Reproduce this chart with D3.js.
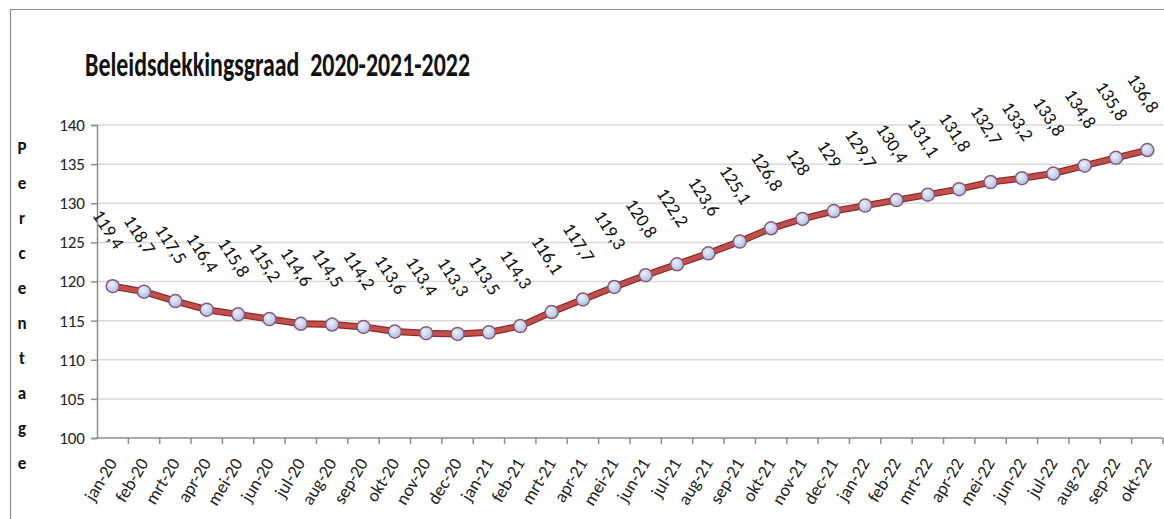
<!DOCTYPE html>
<html>
<head>
<meta charset="utf-8">
<script src="https://cdn.jsdelivr.net/npm/d3@7"></script>
<style>
  html, body { margin: 0; padding: 0; background: #fff; }
  svg { display: block; }
</style>
</head>
<body>
<div id="chart"></div>
<script>
// Beleidsdekkingsgraad per maand
const months = [
    "jan-20", "feb-20", "mrt-20", "apr-20", "mei-20", "jun-20", "jul-20", "aug-20", "sep-20", "okt-20", "nov-20", "dec-20",
    "jan-21", "feb-21", "mrt-21", "apr-21", "mei-21", "jun-21", "jul-21", "aug-21", "sep-21", "okt-21", "nov-21", "dec-21",
    "jan-22", "feb-22", "mrt-22", "apr-22", "mei-22", "jun-22", "jul-22", "aug-22", "sep-22", "okt-22"
];
const dekkingsgraad = [
    119.4, 118.7, 117.5, 116.4, 115.8, 115.2, 114.6, 114.5, 114.2, 113.6, 113.4, 113.3,
    113.5, 114.3, 116.1, 117.7, 119.3, 120.8, 122.2, 123.6, 125.1, 126.8, 128, 129,
    129.7, 130.4, 131.1, 131.8, 132.7, 133.2, 133.8, 134.8, 135.8, 136.8
];
const yTicks = [100, 105, 110, 115, 120, 125, 130, 135, 140];
const chartTitle = "Beleidsdekkingsgraad\u00a0\u00a02020-2021-2022";
const yTitle = "Percentage";

const width = 1164, height = 519;
const font = "Carlito, 'Liberation Sans Narrow', 'Open Sans', sans-serif";

const svg = d3.select("#chart").append("svg")
    .attr("width", width)
    .attr("height", height);

// frame (top + left edge)
svg.append("path")
    .attr("d", `M10.5,${height} V9.5 H${width}`)
    .attr("fill", "none")
    .attr("stroke", "#8c8c8c")
    .attr("stroke-width", 1.2);

const plot = { left: 97, right: 1163, top: 125, bottom: 438 };

const x = d3.scaleBand().domain(months).range([plot.left, plot.right]).padding(0);
const y = d3.scaleLinear().domain([100, 140]).range([plot.bottom, plot.top]);

// gridlines
svg.append("g").selectAll("line").data(yTicks.filter(t => t > 100)).enter().append("line")
    .attr("x1", plot.left).attr("x2", plot.right)
    .attr("y1", d => y(d)).attr("y2", d => y(d))
    .attr("stroke", "#d9d9d9")
    .attr("stroke-width", 1.5);

// y axis
const yAxis = svg.append("g")
    .attr("transform", `translate(${plot.left},0)`)
    .call(d3.axisLeft(y).tickValues(yTicks).tickSize(6).tickPadding(6));
yAxis.select(".domain").attr("stroke", "#8c8c8c").attr("stroke-width", 1.5);
yAxis.selectAll(".tick line").attr("stroke", "#8c8c8c").attr("stroke-width", 1.5);
yAxis.selectAll(".tick text")
    .style("font-family", font)
    .style("font-size", "17px")
    .attr("fill", "#222");

// x axis - ticks between categories
const xAxisG = svg.append("g").attr("transform", `translate(0,${plot.bottom})`);
xAxisG.append("line")
    .attr("x1", plot.left).attr("x2", plot.right)
    .attr("stroke", "#8c8c8c").attr("stroke-width", 1.5);
xAxisG.selectAll("line.tk").data(months).enter().append("line")
    .attr("class", "tk")
    .attr("x1", d => x(d) + x.bandwidth()).attr("x2", d => x(d) + x.bandwidth())
    .attr("y1", 0).attr("y2", 6)
    .attr("stroke", "#8c8c8c").attr("stroke-width", 1.5);
xAxisG.selectAll("text").data(months).enter().append("text")
    .text(d => d)
    .attr("text-anchor", "end")
    .attr("transform", d => `translate(${x(d) + x.bandwidth() / 2 + 5},${25}) rotate(-59)`)
    .style("font-family", font)
    .style("font-size", "18px")
    .attr("fill", "#222");

// title
svg.append("text")
    .text(chartTitle)
    .attr("x", 85)
    .attr("y", 76)
    .attr("textLength", 385)
    .attr("lengthAdjust", "spacingAndGlyphs")
    .style("font-family", font)
    .style("font-size", "34px")
    .style("font-weight", "700")
    .attr("fill", "#111");

// vertical y title, one letter per line
svg.append("g").selectAll("text").data(yTitle.split("")).enter().append("text")
    .text(d => d)
    .attr("x", 22)
    .attr("y", (d, i) => 154 + i * 35)
    .attr("text-anchor", "middle")
    .style("font-family", font)
    .style("font-size", "17px")
    .style("font-weight", "700")
    .attr("fill", "#111");

const cx = (d, i) => x(months[i]) + x.bandwidth() / 2;

// line
const line = d3.line()
    .x((d, i) => cx(d, i))
    .y(d => y(d));

svg.append("path")
    .datum(dekkingsgraad)
    .attr("d", line)
    .attr("fill", "none")
    .attr("stroke", "#8e2b28")
    .attr("stroke-width", 7)
    .attr("stroke-linejoin", "round");
svg.append("path")
    .datum(dekkingsgraad)
    .attr("d", line)
    .attr("fill", "none")
    .attr("stroke", "#c0504d")
    .attr("stroke-width", 4.5)
    .attr("stroke-linejoin", "round");

// marker gradient
const defs = svg.append("defs");
const grad = defs.append("radialGradient").attr("id", "mk").attr("cx", "40%").attr("cy", "35%").attr("r", "70%");
grad.append("stop").attr("offset", "0%").attr("stop-color", "#eef1fa");
grad.append("stop").attr("offset", "100%").attr("stop-color", "#aab9e4");

svg.append("g").selectAll("circle").data(dekkingsgraad).enter().append("circle")
    .attr("cx", cx)
    .attr("cy", d => y(d))
    .attr("r", 6.5)
    .attr("fill", "url(#mk)")
    .attr("stroke", "#8a5a78")
    .attr("stroke-width", 1.5);

// data labels, rotated
const fmt = v => String(v).replace(".", ",");
svg.append("g").selectAll("text").data(dekkingsgraad).enter().append("text")
    .text(d => fmt(d))
    .attr("text-anchor", "middle")
    .attr("dominant-baseline", "central")
    .attr("transform", (d, i) => `translate(${cx(d, i) - 4},${y(d) - 57}) rotate(57)`)
    .style("font-family", font)
    .style("font-size", "18.5px")
    .attr("fill", "#111");
</script>
</body>
</html>
